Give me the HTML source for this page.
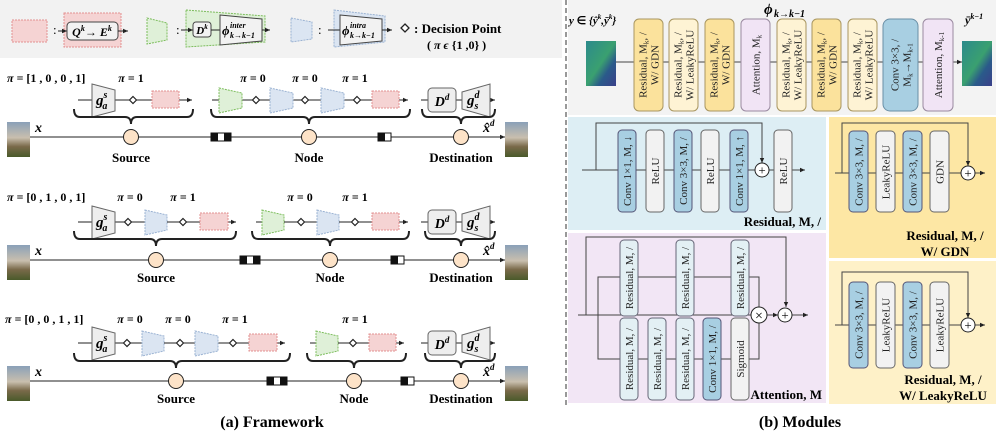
<!DOCTYPE html>
<html><head><meta charset="utf-8"><style>
html,body{margin:0;padding:0;background:#fff;}
svg{display:block;font-family:"Liberation Serif",serif;}
.b{font-weight:bold}
.bt{font-size:11px;fill:#222}
</style></head><body>
<svg width="996" height="433" viewBox="0 0 996 433" xmlns="http://www.w3.org/2000/svg">
<defs>
<marker id="ar" markerWidth="6" markerHeight="6" refX="5" refY="3" orient="auto"><path d="M0,0.8 L5,3 L0,5.2z" fill="#222"/></marker>
<linearGradient id="ph" x1="0" y1="0" x2="0" y2="1"><stop offset="0" stop-color="#8aa0b8"/><stop offset="0.45" stop-color="#c9bfae"/><stop offset="0.7" stop-color="#7a6a4a"/><stop offset="1" stop-color="#4a5a2a"/></linearGradient>
<linearGradient id="ft" x1="0" y1="0" x2="1" y2="1"><stop offset="0" stop-color="#2c8a8c"/><stop offset="0.5" stop-color="#3aa070"/><stop offset="0.7" stop-color="#2a5a8a"/><stop offset="1" stop-color="#3a3f8a"/></linearGradient>
</defs>

<!-- LEFT legend -->
<rect x="0" y="0" width="562" height="58" fill="#f2f2f2"/>
<rect x="12" y="20" width="35" height="22" fill="#f5d3d3" stroke="#e29090" stroke-dasharray="2,1"/>
<text x="53" y="34" font-size="13">:</text>
<rect x="64" y="13" width="57" height="34" fill="#f5d3d3" stroke="#e29090" stroke-dasharray="2,1"/>
<line x1="58" y1="31" x2="67" y2="31" stroke="#222" marker-end="url(#ar)"/>
<rect x="67" y="22" width="51" height="18" rx="4" fill="#f2f2f2" stroke="#444"/>
<text x="92" y="36" font-size="12" text-anchor="middle" class="b" font-style="italic">Q<tspan font-size="8" dy="-5">k</tspan><tspan dy="5">→ E</tspan><tspan font-size="8" dy="-5">k</tspan></text>
<line x1="118" y1="31" x2="128" y2="31" stroke="#222" marker-end="url(#ar)"/>
<polygon points="147,18 167,23 167,40 147,44" fill="#dff0d8" stroke="#7cbd5c" stroke-dasharray="2,1"/>
<text x="176" y="34" font-size="13">:</text>
<polygon points="186,10 265,16 265,42 186,47" fill="#dff0d8" stroke="#7cbd5c" stroke-dasharray="2,1"/>
<line x1="181" y1="30" x2="193" y2="30" stroke="#222" marker-end="url(#ar)"/>
<rect x="193" y="22" width="18" height="15" rx="3" fill="#f2f2f2" stroke="#444"/>
<text x="202" y="34" font-size="11" text-anchor="middle" class="b" font-style="italic">D<tspan font-size="7" dy="-5">k</tspan></text>
<line x1="211" y1="30" x2="220" y2="30" stroke="#222"/>
<polygon points="220,15 262,19 262,41 220,45" fill="#f2f2f2" stroke="#444"/>
<text x="222" y="35" font-size="13" class="b" font-style="italic">ϕ</text>
<text x="230" y="28" font-size="8" class="b" font-style="italic">inter</text>
<text x="230" y="38" font-size="8" class="b" font-style="italic">k→k−1</text>
<line x1="262" y1="30" x2="270" y2="30" stroke="#222" marker-end="url(#ar)"/>
<polygon points="291,18 312,22 312,39 291,42" fill="#dbe5f2" stroke="#9ab2d2" stroke-dasharray="2,1"/>
<text x="318" y="34" font-size="13">:</text>
<polygon points="334,10 385,16 385,42 334,47" fill="#dbe5f2" stroke="#9ab2d2" stroke-dasharray="2,1"/>
<line x1="328" y1="30" x2="340" y2="30" stroke="#222"/>
<polygon points="340,15 382,19 382,41 340,45" fill="#f2f2f2" stroke="#444"/>
<text x="342" y="35" font-size="13" class="b" font-style="italic">ϕ</text>
<text x="350" y="28" font-size="8" class="b" font-style="italic">intra</text>
<text x="350" y="38" font-size="8" class="b" font-style="italic">k→k−1</text>
<line x1="382" y1="30" x2="392" y2="30" stroke="#222" marker-end="url(#ar)"/>
<polygon points="405,24 409,28 405,32 401,28" fill="#fff" stroke="#222" stroke-width="1.3"/>
<text x="414" y="33" font-size="13" class="b">: Decision Point</text>
<text x="427" y="49" font-size="12" class="b">( <tspan font-style="italic">π ϵ</tspan> {1 ,0} )</text>

<!-- ROW 1 -->
<g>
<text x="7" y="82" font-size="12" class="b"><tspan font-style="italic">π</tspan> = [1 , 0 , 0 , 1]</text>
<text x="131" y="82" font-size="12" class="b" text-anchor="middle"><tspan font-style="italic">π</tspan> = 1</text>
<text x="253" y="82" font-size="12" class="b" text-anchor="middle"><tspan font-style="italic">π</tspan> = 0</text>
<text x="305" y="82" font-size="12" class="b" text-anchor="middle"><tspan font-style="italic">π</tspan> = 0</text>
<text x="355" y="82" font-size="12" class="b" text-anchor="middle"><tspan font-style="italic">π</tspan> = 1</text>
<line x1="78" y1="100" x2="192" y2="100" stroke="#222" marker-end="url(#ar)"/>
<polygon points="92,84 115,90 115,111 92,117" fill="#eee" stroke="#666"/>
<text x="96" y="105" font-size="15" class="b" font-style="italic">g<tspan font-size="10" dy="-7">s</tspan><tspan font-size="10" dx="-5" dy="11">a</tspan></text>
<polygon points="133,96.5 136.5,100 133,103.5 129.5,100" fill="#fff" stroke="#222" stroke-width="1.2"/>
<rect x="152" y="91" width="27" height="17" fill="#f5d3d3" stroke="#e29090" stroke-dasharray="2,1"/>
<line x1="212" y1="100" x2="408" y2="100" stroke="#222" marker-end="url(#ar)"/>
<polygon points="219,88 242,93 242,108 219,113" fill="#dff0d8" stroke="#7cbd5c" stroke-dasharray="2,1"/>
<polygon points="256,96.5 259.5,100 256,103.5 252.5,100" fill="#fff" stroke="#222" stroke-width="1.2"/>
<polygon points="270,88 293,93 293,108 270,113" fill="#dbe5f2" stroke="#9ab2d2" stroke-dasharray="2,1"/>
<polygon points="305,96.5 308.5,100 305,103.5 301.5,100" fill="#fff" stroke="#222" stroke-width="1.2"/>
<polygon points="321,88 344,93 344,108 321,113" fill="#dbe5f2" stroke="#9ab2d2" stroke-dasharray="2,1"/>
<polygon points="357,96.5 360.5,100 357,103.5 353.5,100" fill="#fff" stroke="#222" stroke-width="1.2"/>
<rect x="372" y="91" width="27" height="17" fill="#f5d3d3" stroke="#e29090" stroke-dasharray="2,1"/>
<line x1="421" y1="100" x2="495" y2="100" stroke="#222" marker-end="url(#ar)"/>
<rect x="428" y="88" width="28" height="24" rx="4" fill="#eee" stroke="#666"/>
<text x="442" y="106" font-size="14" class="b" font-style="italic" text-anchor="middle">D<tspan font-size="9" dy="-6">d</tspan></text>
<polygon points="462,92 490,84 490,117 462,109" fill="#eee" stroke="#666"/>
<text x="467" y="105" font-size="15" class="b" font-style="italic">g<tspan font-size="10" dy="-7">d</tspan><tspan font-size="10" dx="-5" dy="11">s</tspan></text>
<path d="M74,109 Q74,117 80,117 L125,117 Q131,117 131,124 Q131,117 137,117 L187,117 Q193,117 193,109" fill="none" stroke="#222" stroke-width="2"/>
<path d="M211,109 Q211,117 217,117 L303,117 Q309,117 309,124 Q309,117 315,117 L404,117 Q410,117 410,109" fill="none" stroke="#222" stroke-width="2"/>
<path d="M422,109 Q422,117 428,117 L455,117 Q461,117 461,124 Q461,117 467,117 L489,117 Q495,117 495,109" fill="none" stroke="#222" stroke-width="2"/>
<rect x="7" y="122" width="23" height="35" fill="url(#ph)"/>
<rect x="505" y="122" width="23" height="35" fill="url(#ph)"/>
<line x1="30" y1="137" x2="505" y2="137" stroke="#222" marker-end="url(#ar)"/>
<text x="35" y="132" font-size="14" class="b" font-style="italic">x</text>
<text x="483" y="132" font-size="14" class="b" font-style="italic">x̂<tspan font-size="9" dy="-6">d</tspan></text>
<circle cx="131" cy="137" r="7.5" fill="#fde3c8" stroke="#222"/>
<circle cx="309" cy="137" r="7.5" fill="#fde3c8" stroke="#222"/>
<circle cx="461" cy="137" r="7.5" fill="#fde3c8" stroke="#222"/>
<rect x="211" y="133" width="20" height="8" fill="#fff" stroke="#111"/><rect x="211" y="133" width="7" height="8" fill="#111"/><rect x="224" y="133" width="7" height="8" fill="#111"/>
<rect x="378" y="133" width="13" height="8" fill="#fff" stroke="#111"/><rect x="378" y="133" width="7" height="8" fill="#111"/>
<text x="131" y="162" font-size="13" class="b" text-anchor="middle">Source</text>
<text x="309" y="162" font-size="13" class="b" text-anchor="middle">Node</text>
<text x="461" y="162" font-size="13" class="b" text-anchor="middle">Destination</text>
</g>

<!-- ROW 2 -->
<g>
<text x="7" y="201" font-size="12" class="b"><tspan font-style="italic">π</tspan> = [0 , 1 , 0 , 1]</text>
<text x="130" y="201" font-size="12" class="b" text-anchor="middle"><tspan font-style="italic">π</tspan> = 0</text>
<text x="183" y="201" font-size="12" class="b" text-anchor="middle"><tspan font-style="italic">π</tspan> = 1</text>
<text x="300" y="201" font-size="12" class="b" text-anchor="middle"><tspan font-style="italic">π</tspan> = 0</text>
<text x="355" y="201" font-size="12" class="b" text-anchor="middle"><tspan font-style="italic">π</tspan> = 1</text>
<line x1="78" y1="222" x2="236" y2="222" stroke="#222" marker-end="url(#ar)"/>
<polygon points="92,206 115,212 115,233 92,239" fill="#eee" stroke="#666"/>
<text x="96" y="227" font-size="15" class="b" font-style="italic">g<tspan font-size="10" dy="-7">s</tspan><tspan font-size="10" dx="-5" dy="11">a</tspan></text>
<polygon points="128,218.5 131.5,222 128,225.5 124.5,222" fill="#fff" stroke="#222" stroke-width="1.2"/>
<polygon points="145,210 167,215 167,230 145,235" fill="#dbe5f2" stroke="#9ab2d2" stroke-dasharray="2,1"/>
<polygon points="183,218.5 186.5,222 183,225.5 179.5,222" fill="#fff" stroke="#222" stroke-width="1.2"/>
<rect x="200" y="213" width="28" height="17" fill="#f5d3d3" stroke="#e29090" stroke-dasharray="2,1"/>
<line x1="256" y1="222" x2="408" y2="222" stroke="#222" marker-end="url(#ar)"/>
<polygon points="262,210 284,215 284,230 262,235" fill="#dff0d8" stroke="#7cbd5c" stroke-dasharray="2,1"/>
<polygon points="301,218.5 304.5,222 301,225.5 297.5,222" fill="#fff" stroke="#222" stroke-width="1.2"/>
<polygon points="317,210 339,215 339,230 317,235" fill="#dbe5f2" stroke="#9ab2d2" stroke-dasharray="2,1"/>
<polygon points="355,218.5 358.5,222 355,225.5 351.5,222" fill="#fff" stroke="#222" stroke-width="1.2"/>
<rect x="372" y="213" width="27" height="17" fill="#f5d3d3" stroke="#e29090" stroke-dasharray="2,1"/>
<line x1="421" y1="222" x2="495" y2="222" stroke="#222" marker-end="url(#ar)"/>
<rect x="428" y="210" width="28" height="24" rx="4" fill="#eee" stroke="#666"/>
<text x="442" y="228" font-size="14" class="b" font-style="italic" text-anchor="middle">D<tspan font-size="9" dy="-6">d</tspan></text>
<polygon points="462,214 490,206 490,239 462,231" fill="#eee" stroke="#666"/>
<text x="467" y="227" font-size="15" class="b" font-style="italic">g<tspan font-size="10" dy="-7">d</tspan><tspan font-size="10" dx="-5" dy="11">s</tspan></text>
<path d="M74,231 Q74,239 80,239 L150,239 Q156,239 156,246 Q156,239 162,239 L230,239 Q236,239 236,231" fill="none" stroke="#222" stroke-width="2"/>
<path d="M252,231 Q252,239 258,239 L324,239 Q330,239 330,246 Q330,239 336,239 L403,239 Q409,239 409,231" fill="none" stroke="#222" stroke-width="2"/>
<path d="M425,231 Q425,239 431,239 L455,239 Q461,239 461,246 Q461,239 467,239 L489,239 Q495,239 495,231" fill="none" stroke="#222" stroke-width="2"/>
<rect x="7" y="245" width="23" height="35" fill="url(#ph)"/>
<rect x="505" y="245" width="23" height="35" fill="url(#ph)"/>
<line x1="30" y1="260" x2="505" y2="260" stroke="#222" marker-end="url(#ar)"/>
<text x="35" y="255" font-size="14" class="b" font-style="italic">x</text>
<text x="483" y="255" font-size="14" class="b" font-style="italic">x̂<tspan font-size="9" dy="-6">d</tspan></text>
<circle cx="156" cy="260" r="7.5" fill="#fde3c8" stroke="#222"/>
<circle cx="330" cy="260" r="7.5" fill="#fde3c8" stroke="#222"/>
<circle cx="461" cy="260" r="7.5" fill="#fde3c8" stroke="#222"/>
<rect x="240" y="256" width="20" height="8" fill="#fff" stroke="#111"/><rect x="240" y="256" width="7" height="8" fill="#111"/><rect x="253" y="256" width="7" height="8" fill="#111"/>
<rect x="391" y="256" width="13" height="8" fill="#fff" stroke="#111"/><rect x="391" y="256" width="7" height="8" fill="#111"/>
<text x="156" y="282" font-size="13" class="b" text-anchor="middle">Source</text>
<text x="330" y="282" font-size="13" class="b" text-anchor="middle">Node</text>
<text x="461" y="282" font-size="13" class="b" text-anchor="middle">Destination</text>
</g>

<!-- ROW 3 -->
<g>
<text x="5" y="323" font-size="12" class="b"><tspan font-style="italic">π</tspan> = [0 , 0 , 1 , 1]</text>
<text x="130" y="323" font-size="12" class="b" text-anchor="middle"><tspan font-style="italic">π</tspan> = 0</text>
<text x="178" y="323" font-size="12" class="b" text-anchor="middle"><tspan font-style="italic">π</tspan> = 0</text>
<text x="235" y="323" font-size="12" class="b" text-anchor="middle"><tspan font-style="italic">π</tspan> = 1</text>
<text x="355" y="323" font-size="12" class="b" text-anchor="middle"><tspan font-style="italic">π</tspan> = 1</text>
<line x1="78" y1="343" x2="285" y2="343" stroke="#222" marker-end="url(#ar)"/>
<polygon points="92,327 115,333 115,354 92,360" fill="#eee" stroke="#666"/>
<text x="96" y="348" font-size="15" class="b" font-style="italic">g<tspan font-size="10" dy="-7">s</tspan><tspan font-size="10" dx="-5" dy="11">a</tspan></text>
<polygon points="127,339.5 130.5,343 127,346.5 123.5,343" fill="#fff" stroke="#222" stroke-width="1.2"/>
<polygon points="142,331 164,336 164,351 142,356" fill="#dbe5f2" stroke="#9ab2d2" stroke-dasharray="2,1"/>
<polygon points="180,339.5 183.5,343 180,346.5 176.5,343" fill="#fff" stroke="#222" stroke-width="1.2"/>
<polygon points="195,331 218,336 218,351 195,356" fill="#dbe5f2" stroke="#9ab2d2" stroke-dasharray="2,1"/>
<polygon points="233,339.5 236.5,343 233,346.5 229.5,343" fill="#fff" stroke="#222" stroke-width="1.2"/>
<rect x="249" y="334" width="28" height="17" fill="#f5d3d3" stroke="#e29090" stroke-dasharray="2,1"/>
<line x1="310" y1="343" x2="404" y2="343" stroke="#222" marker-end="url(#ar)"/>
<polygon points="316,331 338,336 338,351 316,356" fill="#dff0d8" stroke="#7cbd5c" stroke-dasharray="2,1"/>
<polygon points="353,339.5 356.5,343 353,346.5 349.5,343" fill="#fff" stroke="#222" stroke-width="1.2"/>
<rect x="369" y="334" width="27" height="17" fill="#f5d3d3" stroke="#e29090" stroke-dasharray="2,1"/>
<line x1="421" y1="343" x2="495" y2="343" stroke="#222" marker-end="url(#ar)"/>
<rect x="428" y="331" width="28" height="24" rx="4" fill="#eee" stroke="#666"/>
<text x="442" y="349" font-size="14" class="b" font-style="italic" text-anchor="middle">D<tspan font-size="9" dy="-6">d</tspan></text>
<polygon points="462,335 490,327 490,360 462,352" fill="#eee" stroke="#666"/>
<text x="467" y="348" font-size="15" class="b" font-style="italic">g<tspan font-size="10" dy="-7">d</tspan><tspan font-size="10" dx="-5" dy="11">s</tspan></text>
<path d="M74,353 Q74,361 80,361 L170,361 Q176,361 176,368 Q176,361 182,361 L284,361 Q290,361 290,353" fill="none" stroke="#222" stroke-width="2"/>
<path d="M307,353 Q307,361 313,361 L348,361 Q354,361 354,368 Q354,361 360,361 L400,361 Q406,361 406,353" fill="none" stroke="#222" stroke-width="2"/>
<path d="M425,353 Q425,361 431,361 L455,361 Q461,361 461,368 Q461,361 467,361 L489,361 Q495,361 495,353" fill="none" stroke="#222" stroke-width="2"/>
<rect x="7" y="366" width="23" height="35" fill="url(#ph)"/>
<rect x="505" y="366" width="23" height="35" fill="url(#ph)"/>
<line x1="30" y1="381" x2="505" y2="381" stroke="#222" marker-end="url(#ar)"/>
<text x="35" y="376" font-size="14" class="b" font-style="italic">x</text>
<text x="483" y="376" font-size="14" class="b" font-style="italic">x̂<tspan font-size="9" dy="-6">d</tspan></text>
<circle cx="176" cy="381" r="7.5" fill="#fde3c8" stroke="#222"/>
<circle cx="354" cy="381" r="7.5" fill="#fde3c8" stroke="#222"/>
<circle cx="461" cy="381" r="7.5" fill="#fde3c8" stroke="#222"/>
<rect x="267" y="377" width="20" height="8" fill="#fff" stroke="#111"/><rect x="267" y="377" width="7" height="8" fill="#111"/><rect x="280" y="377" width="7" height="8" fill="#111"/>
<rect x="401" y="377" width="13" height="8" fill="#fff" stroke="#111"/><rect x="401" y="377" width="7" height="8" fill="#111"/>
<text x="176" y="403" font-size="13" class="b" text-anchor="middle">Source</text>
<text x="354" y="403" font-size="13" class="b" text-anchor="middle">Node</text>
<text x="461" y="403" font-size="13" class="b" text-anchor="middle">Destination</text>
</g>
<text x="272" y="427" font-size="16" class="b" text-anchor="middle">(a) Framework</text>

<!-- divider -->
<line x1="566" y1="0" x2="566" y2="405" stroke="#999" stroke-width="2" stroke-dasharray="5,3"/>

<!-- RIGHT top -->
<rect x="568" y="0" width="428" height="115" fill="#f3f3f3"/>
<text x="764" y="14" font-size="15" class="b" font-style="italic">ϕ</text>
<text x="774" y="17" font-size="10" class="b" font-style="italic">k→k−1</text>
<text x="569" y="24" font-size="11" class="b" font-style="italic">y <tspan font-style="normal">∈</tspan> {ŷ<tspan font-size="7" dy="-5">k</tspan><tspan dy="5">,ȳ</tspan><tspan font-size="7" dy="-5">k</tspan><tspan dy="5">}</tspan></text>
<text x="965" y="24" font-size="12" class="b" font-style="italic">ȳ<tspan font-size="8" dy="-5">k−1</tspan></text>
<rect x="586" y="41" width="30" height="45" fill="url(#ft)"/>
<rect x="962" y="41" width="30" height="45" fill="url(#ft)"/>
<line x1="616" y1="62" x2="962" y2="62" stroke="#444" marker-end="url(#ar)"/>
<g stroke-width="1">
<rect x="634" y="19" width="29" height="92" rx="5" fill="#fbe29c" stroke="#a89660"/>
<rect x="669" y="19" width="29" height="92" rx="5" fill="#fef3d4" stroke="#a89660"/>
<rect x="705" y="19" width="29" height="92" rx="5" fill="#fbe29c" stroke="#a89660"/>
<rect x="741" y="19" width="29" height="92" rx="5" fill="#f1e4f5" stroke="#9a8aa0"/>
<rect x="777" y="19" width="29" height="92" rx="5" fill="#fef3d4" stroke="#a89660"/>
<rect x="812" y="19" width="29" height="92" rx="5" fill="#fbe29c" stroke="#a89660"/>
<rect x="848" y="19" width="29" height="92" rx="5" fill="#fef3d4" stroke="#a89660"/>
<rect x="883" y="19" width="35" height="92" rx="7" fill="#a8cfe2" stroke="#6a8fa6"/>
<rect x="923" y="19" width="30" height="92" rx="5" fill="#f1e4f5" stroke="#9a8aa0"/>
</g>
<g class="bt">
<text transform="translate(648.5,65) rotate(-90)" text-anchor="middle"><tspan x="0" y="-2">Residual, M<tspan font-size="7" dy="2">k</tspan><tspan dy="-2">, /</tspan></tspan><tspan x="0" y="10">W/ GDN</tspan></text>
<text transform="translate(683.5,65) rotate(-90)" text-anchor="middle"><tspan x="0" y="-2">Residual, M<tspan font-size="7" dy="2">k</tspan><tspan dy="-2">, /</tspan></tspan><tspan x="0" y="10">W/ LeakyReLU</tspan></text>
<text transform="translate(719.5,65) rotate(-90)" text-anchor="middle"><tspan x="0" y="-2">Residual, M<tspan font-size="7" dy="2">k</tspan><tspan dy="-2">, /</tspan></tspan><tspan x="0" y="10">W/ GDN</tspan></text>
<text transform="translate(755.5,65) rotate(-90)" text-anchor="middle"><tspan x="0" y="4">Attention, M<tspan font-size="7" dy="2">k</tspan></tspan></text>
<text transform="translate(791.5,65) rotate(-90)" text-anchor="middle"><tspan x="0" y="-2">Residual, M<tspan font-size="7" dy="2">k</tspan><tspan dy="-2">, /</tspan></tspan><tspan x="0" y="10">W/ LeakyReLU</tspan></text>
<text transform="translate(826.5,65) rotate(-90)" text-anchor="middle"><tspan x="0" y="-2">Residual, M<tspan font-size="7" dy="2">k</tspan><tspan dy="-2">, /</tspan></tspan><tspan x="0" y="10">W/ GDN</tspan></text>
<text transform="translate(862.5,65) rotate(-90)" text-anchor="middle"><tspan x="0" y="-2">Residual, M<tspan font-size="7" dy="2">k</tspan><tspan dy="-2">, /</tspan></tspan><tspan x="0" y="10">W/ LeakyReLU</tspan></text>
<text transform="translate(900.5,65) rotate(-90)" text-anchor="middle"><tspan x="0" y="-2">Conv 3×3, /</tspan><tspan x="0" y="10">M<tspan font-size="7" dy="2">k</tspan><tspan dy="-2">→M</tspan><tspan font-size="7" dy="2">k-1</tspan></tspan></text>
<text transform="translate(938,65) rotate(-90)" text-anchor="middle"><tspan x="0" y="4">Attention, M<tspan font-size="7" dy="2">k-1</tspan></tspan></text>
</g>

<!-- Residual M panel -->
<rect x="568" y="117" width="258" height="113" fill="#ddeef4"/>
<polyline points="582,170 596,170 596,123 762,123 762,163" fill="none" stroke="#444" marker-end="url(#ar)"/>
<line x1="582" y1="170" x2="805" y2="170" stroke="#444" marker-end="url(#ar)"/>
<rect x="618" y="130" width="18" height="82" rx="4" fill="#a8cfe2" stroke="#557"/>
<rect x="646" y="130" width="18" height="82" rx="4" fill="#f2f2f2" stroke="#666"/>
<rect x="674" y="130" width="18" height="82" rx="4" fill="#a8cfe2" stroke="#557"/>
<rect x="701" y="130" width="18" height="82" rx="4" fill="#f2f2f2" stroke="#666"/>
<rect x="730" y="130" width="18" height="82" rx="4" fill="#a8cfe2" stroke="#557"/>
<rect x="774" y="130" width="18" height="82" rx="4" fill="#f2f2f2" stroke="#666"/>
<circle cx="762" cy="170" r="7" fill="#fff" stroke="#222"/><text x="762" y="174.5" font-size="13" text-anchor="middle">+</text>
<g class="bt">
<text transform="translate(631,171) rotate(-90)" text-anchor="middle">Conv 1×1, M, ↓</text>
<text transform="translate(659,171) rotate(-90)" text-anchor="middle">ReLU</text>
<text transform="translate(687,171) rotate(-90)" text-anchor="middle">Conv 3×3, M, /</text>
<text transform="translate(714,171) rotate(-90)" text-anchor="middle">ReLU</text>
<text transform="translate(743,171) rotate(-90)" text-anchor="middle">Conv 1×1, M, ↑</text>
<text transform="translate(787,171) rotate(-90)" text-anchor="middle">ReLU</text>
</g>
<text x="821" y="226" font-size="13" class="b" text-anchor="end">Residual, M, /</text>

<!-- GDN panel -->
<rect x="829" y="117" width="167" height="141" fill="#fde7a4"/>
<polyline points="835,173 842,173 842,123 968,123 968,166" fill="none" stroke="#444" marker-end="url(#ar)"/>
<line x1="835" y1="173" x2="985" y2="173" stroke="#444" marker-end="url(#ar)"/>
<rect x="849" y="131" width="19" height="81" rx="4" fill="#a8cfe2" stroke="#557"/>
<rect x="876" y="131" width="19" height="81" rx="4" fill="#f2f2f2" stroke="#666"/>
<rect x="903" y="131" width="19" height="81" rx="4" fill="#a8cfe2" stroke="#557"/>
<rect x="930" y="131" width="19" height="81" rx="4" fill="#f2f2f2" stroke="#666"/>
<circle cx="968" cy="173" r="7" fill="#fff" stroke="#222"/><text x="968" y="177.5" font-size="13" text-anchor="middle">+</text>
<g class="bt">
<text transform="translate(862.5,172) rotate(-90)" text-anchor="middle">Conv 3×3, M, /</text>
<text transform="translate(889.5,172) rotate(-90)" text-anchor="middle">LeakyReLU</text>
<text transform="translate(916.5,172) rotate(-90)" text-anchor="middle">Conv 3×3, M, /</text>
<text transform="translate(943.5,172) rotate(-90)" text-anchor="middle">GDN</text>
</g>
<text x="945" y="240" font-size="13" class="b" text-anchor="middle">Residual, M, /</text>
<text x="945" y="256" font-size="13" class="b" text-anchor="middle">W/ GDN</text>

<!-- LeakyReLU panel -->
<rect x="829" y="261" width="167" height="143" fill="#fef1c8"/>
<polyline points="835,325 842,325 842,272 968,272 968,318" fill="none" stroke="#444" marker-end="url(#ar)"/>
<line x1="835" y1="325" x2="985" y2="325" stroke="#444" marker-end="url(#ar)"/>
<rect x="849" y="282" width="19" height="86" rx="4" fill="#a8cfe2" stroke="#557"/>
<rect x="876" y="282" width="19" height="86" rx="4" fill="#f2f2f2" stroke="#666"/>
<rect x="903" y="282" width="19" height="86" rx="4" fill="#a8cfe2" stroke="#557"/>
<rect x="930" y="282" width="19" height="86" rx="4" fill="#f2f2f2" stroke="#666"/>
<circle cx="968" cy="325" r="7" fill="#fff" stroke="#222"/><text x="968" y="329.5" font-size="13" text-anchor="middle">+</text>
<g class="bt">
<text transform="translate(862.5,325) rotate(-90)" text-anchor="middle">Conv 3×3, M, /</text>
<text transform="translate(889.5,325) rotate(-90)" text-anchor="middle">LeakyReLU</text>
<text transform="translate(916.5,325) rotate(-90)" text-anchor="middle">Conv 3×3, M, /</text>
<text transform="translate(943.5,325) rotate(-90)" text-anchor="middle">LeakyReLU</text>
</g>
<text x="943" y="384" font-size="13" class="b" text-anchor="middle">Residual, M, /</text>
<text x="943" y="400" font-size="13" class="b" text-anchor="middle">W/ LeakyReLU</text>

<!-- Attention panel -->
<rect x="568" y="233" width="258" height="170" fill="#f2e6f5"/>
<polyline points="578,315 586,315 586,237 786,237 786,307" fill="none" stroke="#444" marker-end="url(#ar)"/>
<polyline points="586,315 598,315 598,277 759,277 759,307" fill="none" stroke="#444"/>
<polyline points="598,315 598,359 759,359 759,323" fill="none" stroke="#444"/>
<line x1="578" y1="315" x2="808" y2="315" stroke="#444"/>
<line x1="767" y1="315" x2="778" y2="315" stroke="#444" marker-end="url(#ar)"/>
<line x1="792" y1="315" x2="808" y2="315" stroke="#444" marker-end="url(#ar)"/>
<rect x="620" y="240" width="18" height="76" rx="4" fill="#e3f0f4" stroke="#667"/>
<rect x="676" y="240" width="18" height="76" rx="4" fill="#e3f0f4" stroke="#667"/>
<rect x="731" y="240" width="18" height="76" rx="4" fill="#e3f0f4" stroke="#667"/>
<rect x="620" y="318" width="18" height="82" rx="4" fill="#e3f0f4" stroke="#667"/>
<rect x="648" y="318" width="18" height="82" rx="4" fill="#e3f0f4" stroke="#667"/>
<rect x="676" y="318" width="18" height="82" rx="4" fill="#e3f0f4" stroke="#667"/>
<rect x="703" y="318" width="18" height="82" rx="4" fill="#a8cfe2" stroke="#557"/>
<rect x="731" y="318" width="18" height="82" rx="4" fill="#f2f2f2" stroke="#666"/>
<circle cx="759" cy="315" r="8" fill="#fff" stroke="#222"/><text x="759" y="320" font-size="14" text-anchor="middle">×</text>
<circle cx="785" cy="315" r="7" fill="#fff" stroke="#222"/><text x="785" y="319.5" font-size="13" text-anchor="middle">+</text>
<g class="bt">
<text transform="translate(633,278) rotate(-90)" text-anchor="middle">Residual, M, /</text>
<text transform="translate(689,278) rotate(-90)" text-anchor="middle">Residual, M, /</text>
<text transform="translate(744,278) rotate(-90)" text-anchor="middle">Residual, M, /</text>
<text transform="translate(633,359) rotate(-90)" text-anchor="middle">Residual, M, /</text>
<text transform="translate(661,359) rotate(-90)" text-anchor="middle">Residual, M, /</text>
<text transform="translate(689,359) rotate(-90)" text-anchor="middle">Residual, M, /</text>
<text transform="translate(716,359) rotate(-90)" text-anchor="middle">Conv 1×1, M, /</text>
<text transform="translate(744,359) rotate(-90)" text-anchor="middle">Sigmoid</text>
</g>
<text x="822" y="399" font-size="13" class="b" text-anchor="end">Attention, M</text>

<text x="800" y="427" font-size="16" class="b" text-anchor="middle">(b) Modules</text>
</svg>
</body></html>
